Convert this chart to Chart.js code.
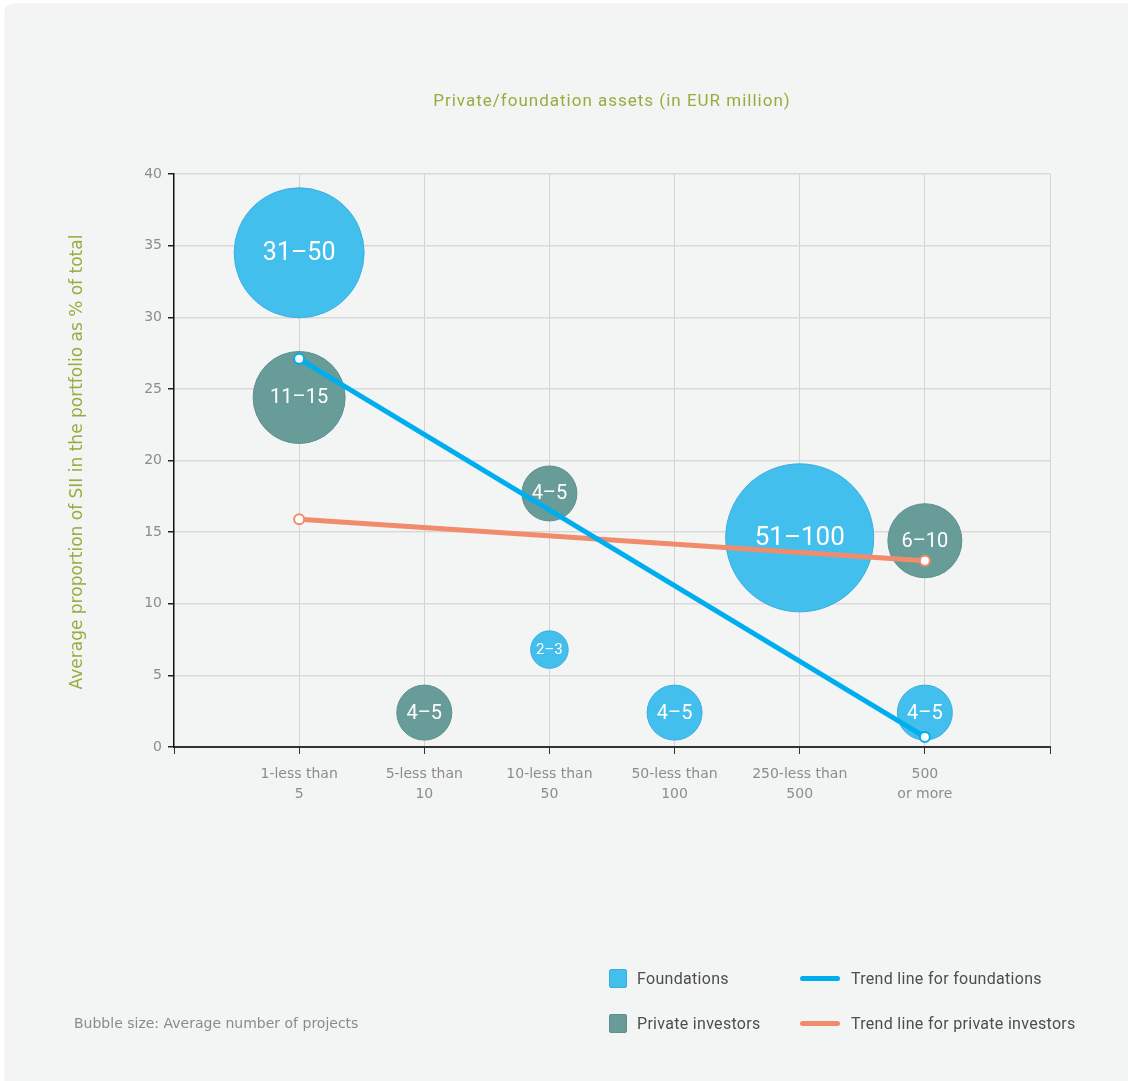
<!DOCTYPE html>
<html>
<head>
<meta charset="utf-8">
<script src="https://cdn.jsdelivr.net/npm/chart.js@4/dist/chart.umd.min.js"></script>
<style>
  html, body { margin: 0; padding: 0; background: #fff; }
  body { width: 1128px; height: 1081px; position: relative; overflow: hidden; }
  #panel {
    position: absolute; left: 6px; top: 5px; width: 1140px; height: 1100px;
    background: #f3f5f4; border-radius: 7px;
    box-shadow: 0 0 2px 1px rgba(0,0,0,0.08);
  }
  #chartCanvas { position: absolute; left: 0; top: 0; }
  .title {
    position: absolute; left: 174px; width: 876px; top: 90px; text-align: center;
    font-family: Roboto, sans-serif; font-size: 17px; letter-spacing: 1px; color: #93ae3f;
  }
  .ytitle {
    position: absolute; left: 76px; top: 462px; width: 600px; text-align: center;
    transform: translate(-50%, -50%) rotate(-90deg);
    font-family: "DejaVu Sans", sans-serif; font-size: 17px; color: #93ae3f; white-space: nowrap;
  }
  .note {
    position: absolute; left: 74px; top: 1015px;
    font-family: "DejaVu Sans", sans-serif; font-size: 14px; color: #8a8a8a;
  }
  .legend-item {
    position: absolute; font-family: Roboto, sans-serif; font-size: 16px; letter-spacing: 0.3px; color: #4d4d4d;
    display: flex; align-items: center; height: 20px;
  }
  .legend-item .box { width: 18px; height: 19px; border-radius: 2px; margin-right: 10px; box-sizing: border-box; }
  .legend-item .bar { width: 40px; height: 5px; border-radius: 3px; margin-right: 11px; }
</style>
</head>
<body>
<div id="panel"></div>
<canvas id="chartCanvas" width="1128" height="1081"></canvas>
<div class="title">Private/foundation assets (in EUR million)</div>
<div class="ytitle">Average proportion of SII in the portfolio as % of total</div>
<div class="note">Bubble size: Average number of projects</div>
<div id="legend"></div>

<script>
// asset classes along the x axis (positions 1..6)
const categories = [
    ['1-less than', '5'],
    ['5-less than', '10'],
    ['10-less than', '50'],
    ['50-less than', '100'],
    ['250-less than', '500'],
    ['500', 'or more']
];
const yTicks = [0, 5, 10, 15, 20, 25, 30, 35, 40];

// foundations bubbles
const foundationX = [1, 3, 4, 5, 6];
const foundationY = [34.5, 6.8, 2.4, 14.6, 2.4];
const foundationSize = [13, 3.75, 5.5, 14.8, 5.5];
const foundationLabels = ['31–50', '2–3', '4–5', '51–100', '4–5'];

// private investors bubbles
const privateX = [1, 2, 3, 6];
const privateY = [24.4, 2.4, 17.7, 14.4];
const privateSize = [9.2, 5.5, 5.5, 7.4];
const privateLabels = ['11–15', '4–5', '4–5', '6–10'];

// trend lines (start / end)
const trendX = [1, 6];
const foundationTrend = [27.1, 0.7];
const privateTrend = [15.9, 13.0];

const BLUE = '#43bfee', TEAL = '#679c99';
const TREND_BLUE = '#00aeef', TREND_ORANGE = '#f08c6c';
const R_SCALE = 5;

const toBubbles = (xs, ys, sizes) => xs.map((x, i) => ({ x, y: ys[i], r: sizes[i] * R_SCALE }));
const toLine = (ys) => trendX.map((x, i) => ({ x, y: ys[i] }));

const legendEl = document.getElementById('legend');
[
    { kind: 'box', color: BLUE, border: '#3aaede', text: 'Foundations', x: 609, y: 968 },
    { kind: 'box', color: TEAL, border: '#5d8f8d', text: 'Private investors', x: 609, y: 1013 },
    { kind: 'bar', color: TREND_BLUE, text: 'Trend line for foundations', x: 800, y: 968 },
    { kind: 'bar', color: TREND_ORANGE, text: 'Trend line for private investors', x: 800, y: 1013 }
].forEach(it => {
    const d = document.createElement('div');
    d.className = 'legend-item';
    d.style.left = it.x + 'px';
    d.style.top = it.y + 'px';
    const sw = it.kind === 'box'
        ? `<span class="box" style="background:${it.color};border:1px solid ${it.border}"></span>`
        : `<span class="bar" style="background:${it.color}"></span>`;
    d.innerHTML = sw + `<span>${it.text}</span>`;
    legendEl.appendChild(d);
});

// text inside the bubbles
const bubbleText = {
    id: 'bubbleText',
    afterDatasetsDraw(chart) {
        const c = chart.ctx;
        chart.data.datasets.forEach((ds, di) => {
            if (!ds.texts) return;
            chart.getDatasetMeta(di).data.forEach((el, i) => {
                const r = el.options.radius;
                const size = r > 70 ? 26 : r > 60 ? 25 : r > 25 ? 20 : 15;
                c.save();
                c.font = `${size}px Roboto, sans-serif`;
                c.fillStyle = '#ffffff';
                c.textAlign = 'center';
                c.textBaseline = 'middle';
                c.fillText(ds.texts[i], el.x, el.y + 1);
                c.restore();
            });
        });
    }
};

const hideAtZero = (color) => (ctx) => (ctx.tick && ctx.tick.value === 0) ? 'rgba(0,0,0,0)' : color;

new Chart(document.getElementById('chartCanvas'), {
    type: 'bubble',
    data: {
        datasets: [
            {
                label: 'Foundations', data: toBubbles(foundationX, foundationY, foundationSize), texts: foundationLabels,
                backgroundColor: BLUE, borderColor: '#3aaede', borderWidth: 1, order: 2, clip: false
            },
            {
                label: 'Private investors', data: toBubbles(privateX, privateY, privateSize), texts: privateLabels,
                backgroundColor: TEAL, borderColor: '#5d8f8d', borderWidth: 1, order: 2, clip: false
            },
            {
                type: 'line', label: 'Trend line for private investors', data: toLine(privateTrend),
                borderColor: TREND_ORANGE, borderWidth: 5, pointRadius: 5, pointBorderWidth: 2,
                pointBackgroundColor: '#fff', pointBorderColor: TREND_ORANGE, order: 1, clip: false
            },
            {
                type: 'line', label: 'Trend line for foundations', data: toLine(foundationTrend),
                borderColor: TREND_BLUE, borderWidth: 5, pointRadius: 5, pointBorderWidth: 2,
                pointBackgroundColor: '#fff', pointBorderColor: TREND_BLUE, order: 0, clip: false
            }
        ]
    },
    options: {
        responsive: false,
        animation: false,
        devicePixelRatio: 1,
        layout: { padding: { left: 100, top: 174, right: 78, bottom: 254 } },
        plugins: { legend: { display: false }, tooltip: { enabled: false } },
        scales: {
            x: {
                type: 'linear', min: 0, max: categories.length + 1,
                afterFit(scale) { scale.height = 80; scale.paddingLeft = 0; scale.paddingRight = 0; },
                ticks: {
                    stepSize: 1, autoSkip: false, maxRotation: 0, padding: 10,
                    color: '#8c8c8c', font: { family: 'DejaVu Sans', size: 14, lineHeight: 1.45 },
                    callback: (v) => categories[v - 1] || ''
                },
                grid: { color: hideAtZero('#d4d4d4'), lineWidth: 1, tickColor: '#333', tickLength: 7 },
                border: { color: '#333', width: 2 }
            },
            y: {
                min: yTicks[0], max: yTicks[yTicks.length - 1],
                afterFit(scale) { scale.width = 74; scale.paddingTop = 0; scale.paddingBottom = 0; },
                afterBuildTicks(scale) { scale.ticks = yTicks.map(v => ({ value: v })); },
                ticks: { padding: 6, color: '#8c8c8c', font: { family: 'DejaVu Sans', size: 14 } },
                grid: { color: hideAtZero('#d9d9d9'), lineWidth: 1.5, tickColor: '#222', tickLength: 6 },
                border: { color: '#111', width: 1.5 }
            }
        }
    },
    plugins: [bubbleText]
});
</script>
</body>
</html>
